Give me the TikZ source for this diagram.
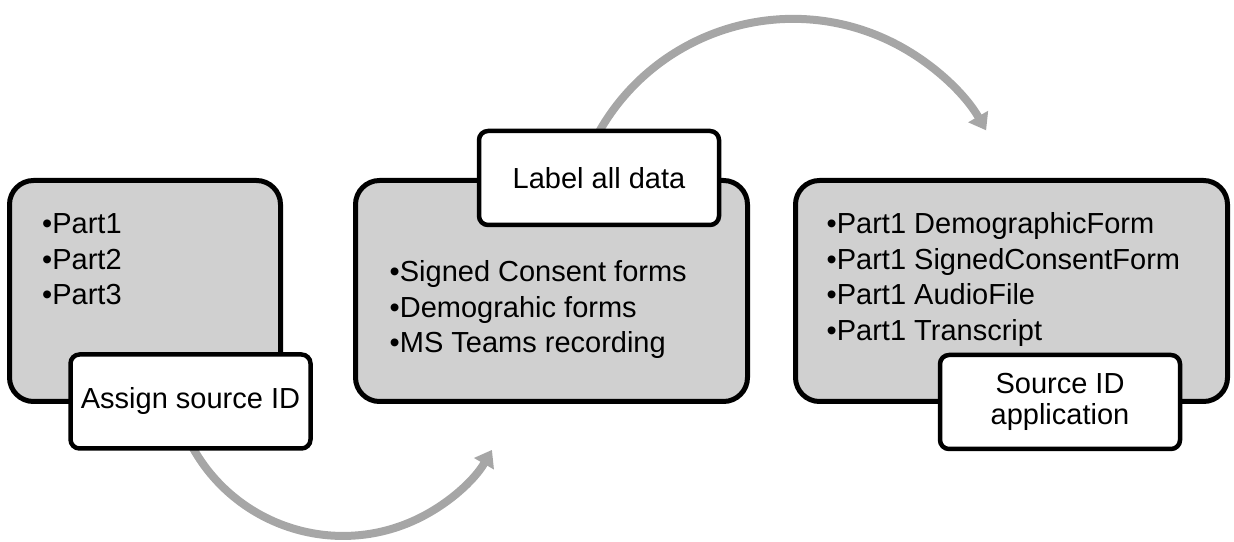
\documentclass[tikz,border=0pt]{standalone}
\usepackage{fontspec}
\setmainfont{Liberation Sans}
\usetikzlibrary{arrows.meta}
\definecolor{boxgray}{RGB}{208,208,208}
\definecolor{arcgray}{RGB}{166,166,166}
\begin{document}
\begin{tikzpicture}[x=1pt,y=1pt,
  bigbox/.style={draw=black, line width=5pt, fill=boxgray, rounded corners=24pt, inner sep=0pt, minimum height=221pt},
  labelbox/.style={draw=black, line width=4.5pt, fill=white, rounded corners=9pt, minimum width=240pt, minimum height=94pt, inner sep=0pt, align=center, font=\fontsize{29}{31}\selectfont},
  listtext/.style={inner sep=0pt, anchor=base west, font=\fontsize{29}{35.5}\selectfont},
  flowarrow/.style={draw=arcgray, line width=8pt, -{Triangle[length=16pt,width=22pt]}}]
\useasboundingbox (0,0) rectangle (1234,541);
% connectors (drawn first, behind the boxes)
\coordinate (a1s) at (187.1,104.4);
\coordinate (a2s) at (596.1,403.8);
\draw[flowarrow] (a1s) arc[start angle=205, end angle=330, radius=172pt];
\draw[flowarrow] (a2s) arc[start angle=152, end angle=30, radius=223pt];
% main boxes
\node[bigbox, minimum width=271pt] (b1) at (145,250) {};
\node[bigbox, minimum width=392pt] (b2) at (551.5,250) {};
\node[bigbox, minimum width=432pt] (b3) at (1011.5,250) {};
% lists
\node[listtext] (t1) at (42,307) {\parbox[t]{400pt}{•Part1\\•Part2\\•Part3}};
\node[listtext] (t2) at (389.5,259) {\parbox[t]{400pt}{•Signed Consent forms\\•Demograhic forms\\•MS Teams recording}};
\node[listtext] (t3) at (826.5,307) {\parbox[t]{400pt}{•Part1 DemographicForm\\•Part1 SignedConsentForm\\•Part1 AudioFile\\•Part1 Transcript}};
% labels
\node[labelbox] (l1) at (190.5,139.5) {Assign source ID};
\node[labelbox] (l2) at (599,363) {Label all data};
\node[labelbox] (l3) at (1060,139) {Source ID\\application};
\end{tikzpicture}
\end{document}
